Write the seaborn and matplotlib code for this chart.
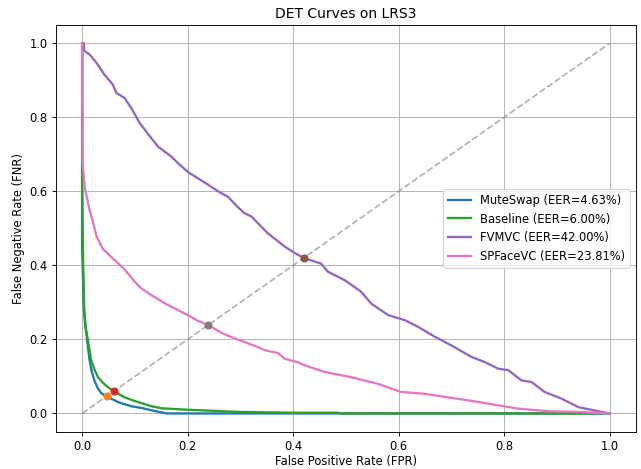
import pandas as pd
import numpy as np
import matplotlib
matplotlib.use("Agg")
import matplotlib.pyplot as plt
import seaborn as sns

# values
names = ["MuteSwap", "Baseline", "FVMVC", "SPFaceVC"]
eers = [0.0463, 0.0600, 0.4200, 0.2381]

muteswap_fpr = [0, 0, 0.002, 0.003, 0.005, 0.008, 0.011, 0.014, 0.018, 0.023, 0.029, 0.036,
                0.046, 0.055, 0.068, 0.080, 0.095, 0.112, 0.130, 0.150, 0.160, 0.30, 0.50, 0.70, 1.0]
muteswap_fnr = [1.0, 0.45, 0.35, 0.29, 0.25, 0.215, 0.18, 0.145, 0.115, 0.09, 0.07, 0.055,
                0.046, 0.04, 0.031, 0.025, 0.019, 0.015, 0.009, 0.003, 0.0, 0.0, 0.0, 0.0, 0.0]

baseline_fpr = [0, 0, 0.002, 0.004, 0.007, 0.011, 0.017, 0.023, 0.030, 0.040, 0.049, 0.060, 0.070,
                0.080, 0.095, 0.112, 0.130, 0.150, 0.175, 0.20, 0.25, 0.30, 0.40, 0.485, 0.49, 1.0]
baseline_fnr = [1.0, 0.62, 0.40, 0.28, 0.23, 0.198, 0.145, 0.12, 0.098, 0.082, 0.071, 0.06, 0.052,
                0.044, 0.036, 0.028, 0.02, 0.014, 0.012, 0.01, 0.007, 0.004, 0.002, 0.002, 0.0, 0.0]

fvmvc_fpr = [0.003, 0.004, 0.014, 0.027, 0.042, 0.058, 0.065, 0.080, 0.093, 0.109, 0.125, 0.144,
             0.169, 0.185, 0.201, 0.220, 0.239, 0.258, 0.277, 0.292, 0.307, 0.321, 0.352, 0.384,
             0.405, 0.422, 0.453, 0.466, 0.498, 0.529, 0.548, 0.580, 0.612, 0.637, 0.669, 0.700,
             0.738, 0.763, 0.789, 0.808, 0.833, 0.852, 0.877, 0.909, 0.941, 0.972, 1.0]
fvmvc_fnr = [1.0, 0.98, 0.97, 0.948, 0.916, 0.889, 0.866, 0.853, 0.826, 0.785, 0.755, 0.721,
             0.694, 0.672, 0.652, 0.635, 0.618, 0.600, 0.585, 0.562, 0.542, 0.532, 0.487, 0.451,
             0.432, 0.419, 0.405, 0.383, 0.360, 0.329, 0.297, 0.266, 0.252, 0.234, 0.207, 0.184,
             0.153, 0.139, 0.121, 0.117, 0.089, 0.085, 0.058, 0.040, 0.017, 0.008, 0.0]

spfacevc_fpr = [0, 0.001, 0.003, 0.005, 0.008, 0.014, 0.020, 0.027, 0.039, 0.050, 0.061, 0.080,
                0.099, 0.112, 0.131, 0.160, 0.200, 0.220, 0.242, 0.265, 0.289, 0.334, 0.346, 0.372,
                0.384, 0.41, 0.422, 0.460, 0.510, 0.561, 0.605, 0.650, 0.700, 0.725, 0.789, 0.827,
                0.884, 0.947, 1.0]
spfacevc_fnr = [1.0, 0.68, 0.64, 0.61, 0.59, 0.55, 0.52, 0.48, 0.445, 0.43, 0.415, 0.39,
                0.357, 0.338, 0.32, 0.295, 0.266, 0.25, 0.237, 0.217, 0.203, 0.179, 0.171, 0.163,
                0.148, 0.138, 0.130, 0.112, 0.098, 0.080, 0.058, 0.053, 0.042, 0.037, 0.022, 0.013,
                0.006, 0.004, 0.0]

curves = [(muteswap_fpr, muteswap_fnr), (baseline_fpr, baseline_fnr),
          (fvmvc_fpr, fvmvc_fnr), (spfacevc_fpr, spfacevc_fnr)]

line_colors = ["tab:blue", "tab:green", "tab:purple", "tab:pink"]
point_colors = ["tab:orange", "tab:red", "tab:brown", "tab:gray"]

dpi = 83
fig, ax = plt.subplots(figsize=(641 / dpi, 469 / dpi), dpi=dpi)
fig.subplots_adjust(left=0.087, right=0.992, bottom=0.079, top=0.947)

ax.plot([0, 1], [0, 1], linestyle="--", color="gray", alpha=0.6, linewidth=1.5)

for name, eer, (fpr, fnr), lc, pc in zip(names, eers, curves, line_colors, point_colors):
    df = pd.DataFrame({"FPR": fpr, "FNR": fnr})
    sns.lineplot(data=df, x="FPR", y="FNR", ax=ax, sort=False, estimator=None,
                 color=lc, linewidth=2, label=f"{name} (EER={eer * 100:.2f}%)")
    ax.plot([eer], [eer], "o", color=pc, markersize=6)

ax.set_title("DET Curves on LRS3")
ax.set_xlabel("False Positive Rate (FPR)", labelpad=2)
ax.set_ylabel("False Negative Rate (FNR)")
ax.grid(True)
ax.legend(loc="center right")

plt.savefig("out.png", dpi=dpi)
